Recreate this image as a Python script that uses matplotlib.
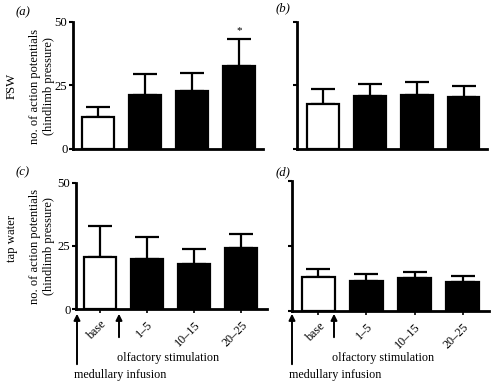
import matplotlib
matplotlib.use('Agg')
import matplotlib.pyplot as plt
import numpy as np

plt.rcParams['font.family'] = ['Liberation Serif', 'DejaVu Serif']

groups = ['base', '1\u20135', '10\u201315', '20\u201325']

# mean and upper error end
fsw_a = [12.5, 21.3, 23.0, 32.8]
fsw_a_top = [16.6, 29.4, 30.0, 43.4]
fsw_b = [17.8, 20.9, 21.2, 20.5]
fsw_b_top = [23.5, 25.7, 26.4, 24.8]
tap_c = [20.6, 19.9, 18.0, 24.1]
tap_c_top = [32.8, 28.4, 23.8, 29.6]
tap_d = [13.0, 11.4, 12.6, 11.0]
tap_d_top = [16.0, 14.1, 15.0, 13.6]

FS = 8.7
W, H = 491, 387
fig = plt.figure(figsize=(W / 100, H / 100), dpi=100)


def box(x0, x1, ytop, ybot):
    return [x0 / W, 1 - ybot / H, (x1 - x0) / W, (ybot - ytop) / H]


def panel(rect, vals, tops, labels_y, xlim, bottom_row):
    ax = fig.add_axes(rect)
    x = np.arange(len(vals))
    colors = ['white', 'black', 'black', 'black']
    ax.bar(x, vals, width=0.68, color=colors, edgecolor='black', linewidth=1.6, zorder=2)
    err = np.array(tops) - np.array(vals)
    ax.errorbar(x, vals, yerr=[np.zeros(len(vals)), err], fmt='none', ecolor='black',
                elinewidth=1.6, capsize=8.5, capthick=1.6, zorder=1)
    ax.set_ylim(0, 50)
    ax.set_xlim(*xlim)
    ax.set_yticks([0, 25, 50])
    if labels_y:
        ax.set_yticklabels(['0', '25', '50'], fontsize=FS + 0.5)
    else:
        ax.set_yticklabels([])
    for s in ['top', 'right']:
        ax.spines[s].set_visible(False)
    for s in ['left', 'bottom']:
        ax.spines[s].set_linewidth(2)
    ax.tick_params(axis='y', width=1.5, length=3, pad=1)
    if bottom_row:
        ax.set_xticks(x)
        ax.set_xticklabels(groups, rotation=45, ha='right', rotation_mode='anchor', fontsize=FS)
        ax.tick_params(axis='x', width=1.2, length=3, pad=4)
    else:
        ax.set_xticks([])
    ax.set_facecolor('none')
    return ax


ax_a = panel(box(73, 263, 22, 149), fsw_a, fsw_a_top, True, (-0.53, 3.5), False)
ax_b = panel(box(297, 487, 22, 149), fsw_b, fsw_b_top, False, (-0.55, 3.5), False)
ax_c = panel(box(76, 267, 183, 309), tap_c, tap_c_top, True, (-0.5, 3.55), True)
ax_d = panel(box(292, 489, 181, 311), tap_d, tap_d_top, False, (-0.55, 3.55), True)

ax_a.text(3, 46.5, '*', ha='center', va='center', fontsize=8)

# panel letters
for lab, px, py in [('(a)', 23, 12), ('(b)', 283, 8), ('(c)', 23, 172), ('(d)', 283, 172)]:
    fig.text(px / W, 1 - py / H, lab, style='italic', fontsize=FS + 0.5, ha='center', va='center')

# row and axis labels
fig.text(12 / W, 1 - 86 / H, 'FSW', rotation=90, ha='center', va='center', fontsize=FS + 0.5)
fig.text(12 / W, 1 - 238 / H, 'tap water', rotation=90, ha='center', va='center', fontsize=FS + 0.5)
for py in [86, 246]:
    fig.text(42 / W, 1 - py / H, 'no. of action potentials\n(hindlimb pressure)', rotation=90,
             ha='center', va='center', fontsize=FS + 0.3, linespacing=1.15)

# arrows and annotations below bottom panels
for ox in [0, 215]:
    fig.add_artist(matplotlib.patches.FancyArrowPatch(
        ((77 + ox) / W, 1 - 367 / H), ((77 + ox) / W, 1 - 311 / H),
        transform=fig.transFigure, arrowstyle='-|>', mutation_scale=9, linewidth=1.4, color='black'))
    fig.add_artist(matplotlib.patches.FancyArrowPatch(
        ((119 + ox) / W, 1 - 340 / H), ((119 + ox) / W, 1 - 311 / H),
        transform=fig.transFigure, arrowstyle='-|>', mutation_scale=9, linewidth=1.4, color='black'))
    fig.text((117 + ox) / W, 1 - 358 / H, 'olfactory stimulation', ha='left', va='center', fontsize=FS)
    fig.text((74 + ox) / W, 1 - 375 / H, 'medullary infusion', ha='left', va='center', fontsize=FS)

fig.savefig('out.png', dpi=100)
